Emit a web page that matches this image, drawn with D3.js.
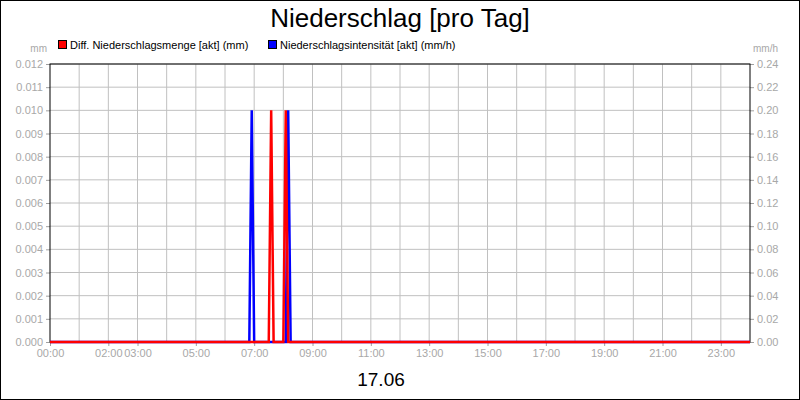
<!DOCTYPE html>
<html><head><meta charset="utf-8">
<script src="https://cdn.jsdelivr.net/npm/d3@7"></script>
<style>body{margin:0;background:#fff}text{font-family:"Liberation Sans",Arial,sans-serif}</style>
</head><body>
<svg id="mainsvg" width="800" height="400"></svg>
<script>
// times in minutes since midnight
const amountTimes = [0, 450, 455, 460, 480, 485, 490, 1440];
const amountValues = [0, 0, 0.01, 0, 0, 0.01, 0, 0];
const intensTimes = [0, 410, 415, 420, 485, 490, 495, 1440];
const intensValues = [0, 0, 0.2, 0, 0, 0.2, 0, 0];
const xTickHours = [0, 2, 3, 5, 7, 9, 11, 13, 15, 17, 19, 21, 23];
const leftTicks = d3.range(0, 13).map(d => d / 1000);
const rightTicks = d3.range(0, 13).map(d => d / 50);

const svg = d3.select('#mainsvg');
const margin = { top: 64, right: 50, bottom: 58, left: 50 };
const innerWidth = 800 - margin.left - margin.right;
const innerHeight = 400 - margin.top - margin.bottom;

svg.append('rect').attr('x', 0.5).attr('y', 0.5).attr('width', 799).attr('height', 399)
    .attr('fill', 'white').attr('stroke', 'black');

const g = svg.append('g').attr('transform', `translate(${margin.left}, ${margin.top})`);

const xScale = d3.scaleLinear().domain([0, 1440]).range([0, innerWidth]);
const yLeft = d3.scaleLinear().domain([0, 0.012]).range([innerHeight, 0]);
const yRight = d3.scaleLinear().domain([0, 0.24]).range([innerHeight, 0]);

// grid
g.selectAll('.vgrid').data(d3.range(1, 24)).join('line')
    .attr('x1', d => xScale(d * 60)).attr('x2', d => xScale(d * 60))
    .attr('y1', 0).attr('y2', innerHeight).attr('stroke', '#c0c0c0');
g.selectAll('.hgrid').data(leftTicks.slice(1)).join('line')
    .attr('x1', 0).attr('x2', innerWidth)
    .attr('y1', d => yLeft(d)).attr('y2', d => yLeft(d)).attr('stroke', '#c0c0c0');

const styleAxis = sel => {
    sel.select('.domain').remove();
    sel.selectAll('.tick line').attr('stroke', '#a0a0a0');
    sel.selectAll('.tick text').attr('fill', '#a8a8a8').attr('font-size', '11px')
        .attr('font-family', '"Liberation Sans", Arial, sans-serif');
};
g.append('g').call(d3.axisLeft(yLeft).tickValues(leftTicks).tickFormat(d3.format('.3f')).tickSize(4).tickPadding(3)).call(styleAxis);
g.append('g').attr('transform', `translate(${innerWidth},0)`)
    .call(d3.axisRight(yRight).tickValues(rightTicks).tickFormat(d3.format('.2f')).tickSize(4).tickPadding(3)).call(styleAxis);
g.append('g').attr('transform', `translate(0,${innerHeight})`)
    .call(d3.axisBottom(xScale).tickValues(xTickHours.map(h => h * 60))
        .tickFormat(d => String(d / 60).padStart(2, '0') + ':00').tickSize(4).tickPadding(3)).call(styleAxis);

g.append('rect').attr('width', innerWidth).attr('height', innerHeight)
    .attr('fill', 'none').attr('stroke', 'black');

const pts = (ts, vs) => ts.map((t, i) => [t, vs[i]]);
g.append('path').datum(pts(intensTimes, intensValues))
    .attr('fill', 'none').attr('stroke', '#0000ff').attr('stroke-width', 2.5)
    .attr('d', d3.line().x(d => xScale(d[0])).y(d => yRight(d[1])));
g.append('path').datum(pts(amountTimes, amountValues))
    .attr('fill', 'none').attr('stroke', '#ff0000').attr('stroke-width', 2.5)
    .attr('d', d3.line().x(d => xScale(d[0])).y(d => yLeft(d[1])));

// titles
svg.append('text').attr('x', 400).attr('y', 27).attr('text-anchor', 'middle')
    .attr('font-size', '26px').text('Niederschlag [pro Tag]');
svg.append('text').attr('x', 381).attr('y', 386).attr('text-anchor', 'middle')
    .attr('font-size', '19px').text('17.06');
svg.append('text').attr('x', 47).attr('y', 52).attr('text-anchor', 'end')
    .attr('font-size', '10px').attr('fill', '#a8a8a8').text('mm');
svg.append('text').attr('x', 753).attr('y', 52)
    .attr('font-size', '10px').attr('fill', '#a8a8a8').text('mm/h');

const legend = [
    { x: 58, color: '#ff0000', label: 'Diff. Niederschlagsmenge [akt] (mm)' },
    { x: 268, color: '#0000ff', label: 'Niederschlagsintensität [akt] (mm/h)' }
];
legend.forEach(l => {
    svg.append('rect').attr('x', l.x + 0.5).attr('y', 40.5).attr('width', 8).attr('height', 8)
        .attr('fill', l.color).attr('stroke', 'black');
    svg.append('text').attr('x', l.x + 12).attr('y', 49).attr('font-size', '11px').text(l.label);
});
</script>
</body></html>
